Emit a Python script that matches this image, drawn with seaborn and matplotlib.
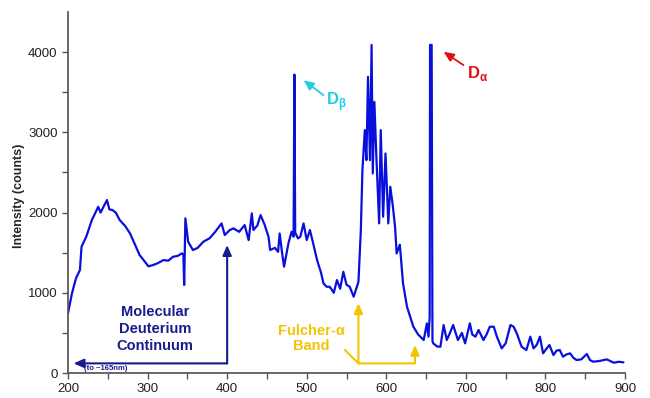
import pandas as pd
import seaborn as sns
import matplotlib.pyplot as plt

## spectrum (wavelength in nm, intensity in counts)
wavelength = [
    200, 205, 210, 215, 217, 223, 230, 238, 241, 245, 249, 252, 256, 260, 265,
    272, 278, 286, 290, 295, 301, 307, 313, 320, 326, 332, 338, 343, 345, 346,
    347.5, 351, 357, 363, 370, 378, 385, 393, 397, 403, 408, 415, 422, 427, 431,
    433, 438, 442, 447, 452, 454, 460, 464, 466, 469, 471.5, 477, 481, 483.5,
    484.5, 485.5, 489, 492, 496, 500, 504, 508, 513, 518, 521, 525, 529, 534,
    538, 542, 546, 550, 554, 559, 565, 568, 570, 573, 575, 577, 579.5, 581.5,
    583, 585, 587.5, 591, 593, 596, 599, 602.5, 605, 608, 611, 613, 617, 621,
    626, 630, 634, 640, 647, 651, 653, 654.5, 655, 657, 658, 659, 664, 668, 672,
    676, 680, 684, 690, 695, 699, 705, 708, 712, 716, 722, 726, 730, 735, 739,
    745, 750, 756, 760, 764, 770, 776, 781, 785, 789, 793, 797, 801, 805, 810,
    814, 818, 822, 826, 831, 835, 839, 845, 852, 856, 860, 868, 877, 886, 892,
    898,
]
intensity = [
    744, 993, 1180, 1283, 1574, 1700, 1907, 2072, 2000, 2080, 2156, 2040, 2031,
    2000, 1907, 1830, 1740, 1560, 1470, 1408, 1330, 1346, 1370, 1408, 1400,
    1449, 1460, 1491, 1480, 1097, 1928, 1636, 1533, 1560, 1636, 1680, 1760,
    1865, 1720, 1780, 1803, 1760, 1844, 1657, 1990, 1782, 1840, 1969, 1850,
    1698, 1533, 1560, 1511, 1740, 1500, 1325, 1616, 1761, 1700, 3720, 1750,
    1678, 1700, 1865, 1657, 1782, 1620, 1408, 1250, 1118, 1075, 1075, 1000,
    1159, 1050, 1262, 1100, 1075, 951, 1138, 1782, 2530, 3028, 2654, 3692,
    2654, 4090, 2488, 3380, 2700, 1865, 3028, 1948, 2737, 1865, 2322, 2100,
    1823, 1491, 1600, 1118, 826, 700, 577, 480, 411, 619, 453, 700, 4090, 4090,
    400, 370, 330, 328, 598, 411, 500, 598, 411, 500, 370, 619, 480, 453, 536,
    411, 480, 577, 577, 453, 307, 370, 598, 577, 494, 328, 286, 453, 307, 350,
    453, 245, 300, 349, 224, 280, 286, 203, 230, 245, 190, 162, 170, 237, 160,
    141, 150, 170, 128, 140, 133,
]
spectrum = pd.DataFrame({"nm": wavelength, "counts": intensity})

x_ticks = [200, 300, 400, 500, 600, 700, 800, 900]
y_ticks = [0, 1000, 2000, 3000, 4000]

## annotation anchors (nm, counts)
continuum_corner = (400, 120)
continuum_tip_up = (400, 1595)
continuum_tip_left = (207, 120)
fulcher_left = (565, 120)
fulcher_right = (636, 120)
fulcher_tip_left = (565, 870)
fulcher_tip_right = (636, 350)
fulcher_lead = (548, 287)

navy = "#1a1a8f"
gold = "#f5c400"
cyan = "#22cce8"
red = "#e01010"

sns.set_theme(style="ticks")
plt.rcParams["font.family"] = ["Liberation Sans", "DejaVu Sans"]

fig = plt.figure(figsize=(6.5, 3.98), dpi=100)
ax = fig.add_axes([0.1046, 0.0628, 0.857, 0.907])

sns.lineplot(data=spectrum, x="nm", y="counts", color="#0a10dc", linewidth=1.6,
             ax=ax, sort=False)

ax.set_xlim(200, 900)
ax.set_ylim(0, 4500)
ax.set_xticks(x_ticks)
ax.set_yticks(y_ticks)
ax.set_xticks(range(250, 900, 100), minor=True)
ax.set_yticks(range(500, 4500, 1000), minor=True)
ax.tick_params(which="both", direction="out", length=4, width=1, colors="#555555",
               labelcolor="#222222", labelsize=9.5)
ax.set_xlabel("")
ax.set_ylabel("Intensity (counts)", fontsize=9, fontweight="bold", labelpad=6)
ax.yaxis.set_label_coords(-0.078, 0.49)
for s in ["left", "bottom"]:
    ax.spines[s].set_color("#555555")
sns.despine(ax=ax)

arrow = dict(arrowstyle="-|>,head_length=0.5,head_width=0.22", lw=1.5,
             shrinkA=0, shrinkB=0)

# molecular continuum bracket
ax.annotate("", xy=continuum_tip_up, xytext=continuum_corner,
            arrowprops=dict(arrow, color=navy))
ax.annotate("", xy=continuum_tip_left, xytext=continuum_corner,
            arrowprops=dict(arrow, color=navy))
ax.text(309, 550, "Molecular\nDeuterium\nContinuum", color=navy, fontsize=10.5,
        fontweight="bold", ha="center", va="center", linespacing=1.3)
ax.text(247, 58, "(to ~165nm)", color=navy, fontsize=5.5, fontweight="bold",
        ha="center", va="center")

# Fulcher band bracket
ax.plot([fulcher_lead[0], fulcher_left[0], fulcher_right[0]],
        [fulcher_lead[1], fulcher_left[1], fulcher_right[1]], color=gold, lw=1.5)
ax.annotate("", xy=fulcher_tip_left, xytext=fulcher_left,
            arrowprops=dict(arrow, color=gold))
ax.annotate("", xy=fulcher_tip_right, xytext=fulcher_right,
            arrowprops=dict(arrow, color=gold))
ax.text(506, 430, "Fulcher-\u03b1\nBand", color=gold, fontsize=10.5,
        fontweight="bold", ha="center", va="center", linespacing=1.15)

# Balmer lines
ax.annotate("", xy=(496, 3650), xytext=(521, 3464),
            arrowprops=dict(arrow, color=cyan, lw=1.3))
ax.text(537, 3380, r"D$_\mathregular{\beta}$", color=cyan, fontsize=12,
        fontweight="bold", ha="center", va="center")
ax.annotate("", xy=(672, 4004), xytext=(697, 3838),
            arrowprops=dict(arrow, color=red, lw=1.3))
ax.text(715, 3735, r"D$_\mathregular{\alpha}$", color=red, fontsize=12,
        fontweight="bold", ha="center", va="center")

plt.savefig("out.png", dpi=100)
